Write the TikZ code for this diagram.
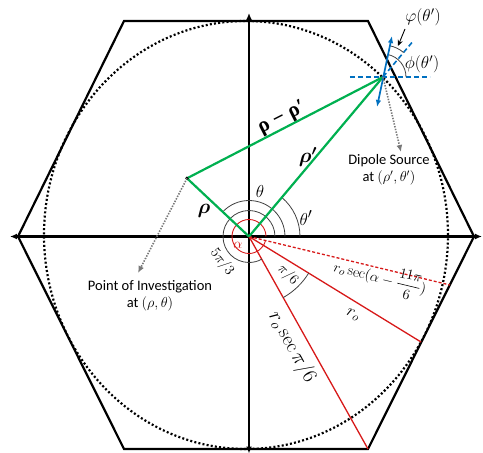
\documentclass[tikz,border=0pt]{standalone}
\usepackage{amsmath,amssymb,bm}
\usepackage{fontspec}
\setsansfont{Carlito}
\newfontfamily\grkbold{Liberation Serif}
\usetikzlibrary{arrows.meta}
\definecolor{myGreen}{RGB}{0,176,80}
\definecolor{myBlue}{RGB}{0,112,192}
\definecolor{myRed}{RGB}{215,25,25}
\definecolor{myGray}{RGB}{120,120,120}
\tikzset{
  hexline/.style={line width=2.2pt, line join=miter},
  axisline/.style={line width=2.1pt, {Latex[length=7pt,width=6pt]}-{Latex[length=7pt,width=6pt]}},
  dotline/.style={line width=2.2pt, dash pattern=on 2pt off 2.2pt},
  greenline/.style={myGreen, line width=2.2pt},
  redline/.style={myRed, line width=1.3pt},
  reddash/.style={myRed, line width=1.3pt, dash pattern=on 3pt off 2pt},
  anglearc/.style={black!75, line width=0.8pt},
  bluedash/.style={myBlue, line width=1.6pt, dash pattern=on 5pt off 3pt},
  bluearrow/.style={myBlue, line width=1.7pt, {Latex[length=7pt,width=5.5pt]}-{Latex[length=7pt,width=5.5pt]}},
  grayarrow/.style={myGray, line width=1.6pt, dash pattern=on 1.4pt off 1.4pt, -{Latex[length=7pt,width=6pt]}},
  lbl/.style={inner sep=0pt, font=\fontsize{17}{19}\selectfont},
  sflbl/.style={inner sep=0pt, align=center, font=\sffamily\fontsize{14.5}{17.5}\selectfont},
  smalllbl/.style={inner sep=0pt, font=\fontsize{14}{16}\selectfont}
}
\begin{document}
\begin{tikzpicture}[x=1pt,y=1pt]
\useasboundingbox (-249,-216.5) rectangle (234,236.5);
% key points
\coordinate (O) at (0,0);
\coordinate (D) at (134,159.5);
\coordinate (P) at (-62,58.2);
\coordinate (H1) at (225,0);
\coordinate (H2) at (119,215.5);
\coordinate (H3) at (-125,215.5);
\coordinate (H4) at (-231,0);
\coordinate (H5) at (-125,-212.5);
\coordinate (H6) at (119,-212.5);
\coordinate (XL) at (-239,0);
\coordinate (XR) at (233,0);
\coordinate (YT) at (0,223.5);
\coordinate (YB) at (0,-217);
\coordinate (Ad) at (201,-48.5);
\coordinate (Ar) at (172,-105.5);
\coordinate (Ddl) at (152,84.5);
\coordinate (Pdl) at (-111,-36.5);
\coordinate (BH1) at (101,159.5);
\coordinate (BH2) at (181,159.5);
\coordinate (BT) at (164.2,195.5);
\coordinate (BA1) at (128,129.5);
\coordinate (BA2) at (143,200.5);
\coordinate (PhiTip) at (149,190.5);

% dotted circle
\draw[dotline] (-3,1.5) ellipse [x radius=202, y radius=214];
% hexagon
\draw[hexline] (H1) -- (H2) -- (H3) -- (H4) -- (H5) -- (H6) -- cycle;
% axes
\draw[axisline] (XL) -- (XR);
\draw[axisline] (YB) -- (YT);

% red lines
\draw[reddash] (O) -- (Ad);
\draw[redline] (O) -- (Ar);
\draw[redline] (O) -- (H6);

% arcs at origin
\draw[myRed, line width=0.9pt] (17,0) arc[start angle=0, end angle=346.4, radius=17];
\draw[anglearc] (26,0) arc[start angle=0, end angle=300, radius=26];
\draw[anglearc] (36,0) arc[start angle=0, end angle=136.8, radius=36];
\draw[anglearc] (51,0) arc[start angle=0, end angle=50, radius=51];
\draw[anglearc] ([shift={(-31.5:70)}]O) arc[start angle=-31.5, end angle=-60.75, radius=70];

% green lines
\draw[greenline] (O) -- (D);
\draw[greenline] (O) -- (P);
\draw[greenline] (P) -- (D);
\fill (P) circle (1.8pt);

% dipole
\draw[bluedash] (BH1) -- (BH2);
\draw[bluedash] (D) -- (BT);
\draw[anglearc] ([shift={(0:23)}]D) arc[start angle=0, end angle=78, radius=23];
\draw[anglearc] ([shift={(50:32)}]D) arc[start angle=50, end angle=78, radius=32];
\draw[bluearrow] (BA1) -- (BA2);

% gray pointers
\draw[grayarrow] (D) -- (Ddl);
\draw[grayarrow] (P) -- (Pdl);

% labels
\node[lbl] (lvphi) at (174,219.5) {$\varphi(\theta')$};
\draw[-{Stealth[length=6pt,width=5pt]}, line width=0.9pt] (156,207.5) -- (PhiTip);
\node[lbl] (lphi) at (173,172) {$\phi(\theta')$};
\node[sflbl] (ldip) at (140,66.5) {Dipole Source\\at $(\rho',\theta')$};
\node[sflbl] (lpoi) at (-99,-59.5) {Point of Investigation\\at $(\rho,\theta)$};
\node[inner sep=0pt, rotate=27, font=\grkbold\bfseries\fontsize{21}{23}\selectfont] (lrd) at (33,118.5) {ρ − ρ′};
\node[lbl, font=\fontsize{20}{22}\selectfont] (lrp) at (59,79.5) {$\bm{\rho'}$};
\node[lbl, font=\fontsize{20}{22}\selectfont] (lr) at (-45,26) {$\bm{\rho}$};
\node[lbl, font=\fontsize{19}{21}\selectfont] (lth) at (11,44.5) {$\theta$};
\node[lbl, font=\fontsize{19}{21}\selectfont] (lthp) at (57,18.5) {$\theta'$};
\node[smalllbl, myRed, font=\fontsize{15}{17}\selectfont] (lal) at (-11,-8.5) {$\alpha$};
\node[smalllbl, rotate=-52] (l53) at (-27,-25.5) {$5\pi/3$};
\node[smalllbl, rotate=-45] (l6) at (39,-38.5) {$\pi/6$};
\node[inner sep=0pt, rotate=-13.5, font=\fontsize{15}{17}\selectfont] (lsec) at (131,-41.5) {$r_o\sec(\alpha-\dfrac{11\pi}{6})$};
\node[inner sep=0pt, rotate=-25, font=\fontsize{18}{20}\selectfont] (lro) at (104,-78.5) {$r_o$};
\node[inner sep=0pt, rotate=-61, font=\fontsize{20}{22}\selectfont] (lsec2) at (43,-110.5) {$r_o\sec\pi/6$};
\end{tikzpicture}
\end{document}
